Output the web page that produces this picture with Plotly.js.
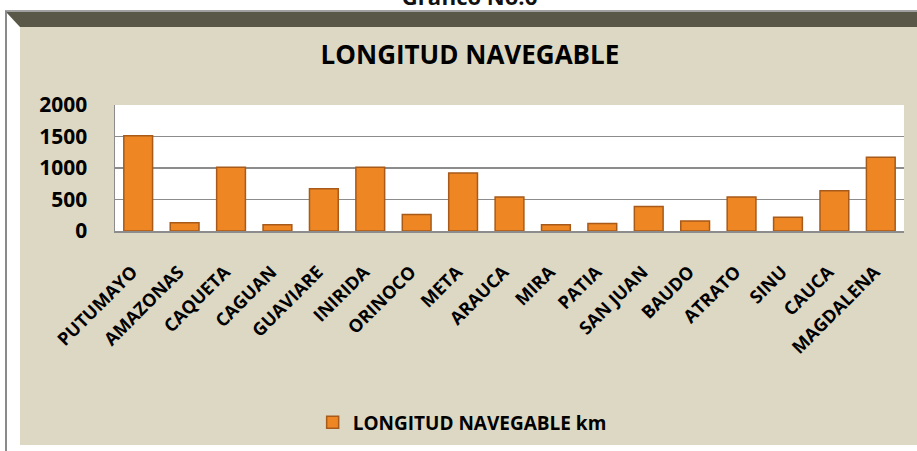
<!DOCTYPE html>
<html>
<head>
<meta charset="utf-8">
<script src="https://cdn.plot.ly/plotly-3.0.1.min.js"></script>
<style>
  html, body { margin:0; padding:0; background:#ffffff; overflow:hidden; }
  #wrap { position:relative; width:917px; height:451px; overflow:hidden; background:#ffffff; }
  #topline { position:absolute; left:5px; top:10px; width:912px; height:2px; background:#a0a0a0; }
  #band { position:absolute; left:6px; top:12px; width:911px; height:15px; background:#595748;
          clip-path: polygon(0 0, 100% 0, 100% 100%, 14px 100%); }
  #leftline { position:absolute; left:5px; top:11px; width:2px; height:440px; background:#8a8a8a; }
  #panel { position:absolute; left:20px; top:27px; width:897px; height:418px; background:#ddd8c3; }
  #head { position:absolute; left:0; width:917px; top:-18px; text-align:center; padding-left:22px; box-sizing:border-box;
          font-family:"Open Sans", sans-serif; font-weight:bold; font-size:22px; color:#111; line-height:28px; }
  #chart { position:absolute; left:0; top:0; width:917px; height:451px; }
</style>
</head>
<body>
<div id="wrap">
  <div id="head">Gráfico No.6</div>
  <div id="topline"></div>
  <div id="band"></div>
  <div id="leftline"></div>
  <div id="panel"></div>
  <div id="chart"></div>
</div>
<script>
const rivers = ["PUTUMAYO","AMAZONAS","CAQUETA","CAGUAN","GUAVIARE","INIRIDA","ORINOCO","META","ARAUCA","MIRA","PATIA","SAN JUAN","BAUDO","ATRATO","SINU","CAUCA","MAGDALENA"];
const longitudKm = [1510, 130, 1010, 100, 670, 1010, 260, 920, 540, 100, 120, 390, 160, 540, 220, 640, 1170];
const yTicks = [0, 500, 1000, 1500, 2000];
const seriesName = "LONGITUD NAVEGABLE km";
const chartTitle = "LONGITUD NAVEGABLE";

const font = "Open Sans, sans-serif";

const trace = {
  type: "bar",
  x: rivers,
  y: longitudKm,
  name: seriesName,
  marker: { color: "#ee8623", line: { color: "#a85a1a", width: 1.5 } },
  showlegend: true,
  hoverinfo: "x+y"
};

const layout = {
  width: 917, height: 451,
  margin: { l: 115, r: 13, t: 105, b: 219 },
  paper_bgcolor: "rgba(0,0,0,0)",
  plot_bgcolor: "#ffffff",
  bargap: 0.38,
  showlegend: true,
  title: {
    text: "<b>" + chartTitle + "</b>",
    font: { family: font, size: 26, color: "#000000" },
    xref: "container", x: 0.5125, xanchor: "center",
    yref: "container", y: 0.878, yanchor: "middle"
  },
  xaxis: {
    type: "category",
    tickangle: -45,
    tickfont: { family: font, size: 18, color: "#000000", weight: "bold" },
    showline: true, linecolor: "#8c8c8c", linewidth: 1.5,
    ticks: "", showgrid: false, ticklabelstandoff: 22, ticklabelshift: -6
  },
  yaxis: {
    range: [0, 2000],
    tickvals: yTicks,
    ticktext: yTicks.map(String),
    tickfont: { family: font, size: 21, color: "#000000", weight: "bold" },
    showgrid: true, gridcolor: "#8c8c8c", gridwidth: 1.5,
    showline: true, linecolor: "#8c8c8c", linewidth: 1.5,
    zeroline: false, ticks: "", ticklabelstandoff: 22
  },
  legend: {
    orientation: "h",
    x: 0.44, xanchor: "center",
    y: -1.5, yanchor: "middle",
    bgcolor: "rgba(0,0,0,0)",
    font: { family: font, size: 19, color: "#000000", weight: "bold" }
  }
};

Plotly.newPlot("chart", [trace], layout, { displayModeBar: false, staticPlot: true });
</script>
</body>
</html>
